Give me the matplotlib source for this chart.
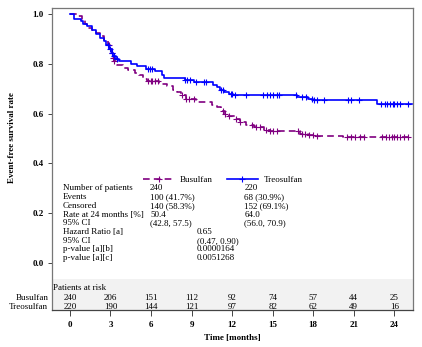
import numpy as np
import matplotlib
matplotlib.use("Agg")
import matplotlib.pyplot as plt

plt.rcParams["font.family"] = ["Liberation Serif", "DejaVu Serif"]

# Kaplan-Meier steps (months, survival after the step)
treo_t = [0, 0.3, 0.8, 1.0, 1.3, 1.6, 1.9, 2.2, 2.5, 2.7, 2.9, 3.1, 3.2, 3.4, 3.6, 4.5,
          5.0, 5.6, 6.3, 6.8, 7.0, 8.5, 9.2, 10.6, 10.9, 11.1, 11.4, 11.8, 12.1, 16.8,
          17.6, 18.0, 22.7, 25.3]
treo_s = [1.0, 0.98, 0.97, 0.96, 0.95, 0.935, 0.92, 0.905, 0.89, 0.875, 0.86, 0.845,
          0.83, 0.82, 0.81, 0.80, 0.79, 0.78, 0.77, 0.755, 0.745, 0.735, 0.725, 0.715,
          0.705, 0.695, 0.685, 0.68, 0.675, 0.665, 0.66, 0.655, 0.64, 0.64]
treo_cens = [2.8, 3.0, 3.1, 3.3, 3.5, 5.8, 5.9, 6.1, 8.5, 8.7, 8.9, 9.3, 9.9, 10.1,
             11.2, 11.3, 11.9, 12.0, 12.2, 13.0, 14.3, 14.6, 14.8, 15.0, 15.3, 15.5,
             16.7, 17.2, 17.5, 17.9, 18.1, 18.3, 18.8, 20.6, 20.8, 21.4, 23.0, 23.3,
             23.5, 23.7, 23.9, 24.0, 24.2, 24.4, 25.0]

busu_t = [0, 0.6, 0.9, 1.1, 1.3, 1.6, 1.9, 2.2, 2.5, 2.8, 3.0, 3.1, 3.2, 3.3, 3.5, 3.9,
          4.3, 4.8, 5.1, 5.4, 5.7, 6.6, 7.2, 7.6, 7.9, 8.2, 8.6, 9.3, 10.5, 10.9, 11.2,
          11.5, 11.8, 12.2, 12.6, 13.0, 13.6, 14.4, 14.8, 17.0, 17.6, 18.2, 20.2, 25.0]
busu_s = [1.0, 0.99, 0.975, 0.96, 0.945, 0.935, 0.925, 0.91, 0.895, 0.875, 0.86, 0.845,
          0.825, 0.81, 0.795, 0.785, 0.775, 0.765, 0.755, 0.74, 0.73, 0.72, 0.71, 0.695,
          0.685, 0.675, 0.66, 0.645, 0.635, 0.625, 0.61, 0.60, 0.59, 0.58, 0.565,
          0.555, 0.545, 0.535, 0.53, 0.52, 0.515, 0.51, 0.505, 0.505]
busu_cens = [2.9, 3.1, 3.2, 3.3, 5.8, 6.0, 6.1, 6.3, 6.5, 8.3, 8.6, 8.8, 9.2, 11.3,
             11.5, 11.8, 12.3, 12.6, 13.5, 13.8, 14.1, 14.5, 14.8, 15.0, 15.3, 16.9,
             17.2, 17.4, 17.7, 18.0, 18.3, 20.5, 20.8, 21.1, 21.5, 21.8, 23.1, 23.4,
             23.6, 23.8, 24.0, 24.2, 24.4, 24.7, 25.0]

risk_times = [0, 3, 6, 9, 12, 15, 18, 21, 24]
risk_busu = [240, 206, 151, 112, 92, 74, 57, 44, 25]
risk_treo = [220, 190, 144, 121, 97, 82, 62, 49, 16]

table_labels = ["Number of patients", "Events", "Censored", "Rate at 24 months [%]", "95% CI"]
table_busu = ["240", "100 (41.7%)", "140 (58.3%)", "50.4", "(42.8, 57.5)"]
table_treo = ["220", "68 (30.9%)", "152 (69.1%)", "64.0", "(56.0, 70.9)"]
hr_labels = ["Hazard Ratio [a]", "95% CI", "p-value [a][b]", "p-value [a][c]"]
hr_values = ["0.65", "(0.47, 0.90)", "0.0000164", "0.0051268"]

purple = "#800080"
blue = "#0000ff"
fs = 6.5

fig = plt.figure(figsize=(4.22, 3.47), dpi=100)
ax = fig.add_axes([0.123, 0.108, 0.856, 0.869])
ybot = -0.186
ax.set_xlim(-1.33, 25.4)
ax.set_ylim(ybot, 1.024)

ax.axhspan(ybot, -0.064, color="#f2f2f2", zorder=0, lw=0)


def censor_y(t, s, cens):
    idx = np.searchsorted(t, cens, side="right") - 1
    return np.array(s)[idx]


ax.step(busu_t, busu_s, where="post", color=purple, lw=1.2, ls=(0, (4, 2.5)))
ax.plot(busu_cens, censor_y(busu_t, busu_s, busu_cens), "+", color=purple, ms=5, mew=0.8)
ax.step(treo_t, treo_s, where="post", color=blue, lw=1.2)
ax.plot(treo_cens, censor_y(treo_t, treo_s, treo_cens), "+", color=blue, ms=5, mew=0.8)

# legend
h1, = ax.plot([], [], color=purple, lw=1.2, ls=(0, (4, 2.5)), marker="+", ms=5, mew=0.8)
h2, = ax.plot([], [], color=blue, lw=1.2, marker="+", ms=5, mew=0.8)
ax.legend([h1, h2], ["Busulfan", "Treosulfan"], ncol=2, frameon=False, fontsize=fs,
          loc="center left", bbox_to_anchor=(0.23, 0.43), handlelength=3.5,
          columnspacing=1.5, handletextpad=0.6)

# statistics table
y0, dy = 0.30, 0.035
for i, lab in enumerate(table_labels):
    y = y0 - i * dy
    ax.text(-0.52, y, lab, fontsize=fs, va="center")
    ax.text(5.93, y, table_busu[i], fontsize=fs, va="center")
    ax.text(12.9, y, table_treo[i], fontsize=fs, va="center")
for j, lab in enumerate(hr_labels):
    y = y0 - (len(table_labels) + j) * dy
    ax.text(-0.52, y, lab, fontsize=fs, va="center")
    ax.text(9.4, y, hr_values[j], fontsize=fs, va="center")

# patients at risk
ax.text(-1.26, -0.099, "Patients at risk", fontsize=fs, va="center")
for t, b, r in zip(risk_times, risk_busu, risk_treo):
    ax.text(t, -0.141, str(b), fontsize=fs, ha="center", va="center")
    ax.text(t, -0.176, str(r), fontsize=fs, ha="center", va="center")
ax.text(-1.6, -0.141, "Busulfan", fontsize=fs, ha="right", va="center")
ax.text(-1.6, -0.176, "Treosulfan", fontsize=fs, ha="right", va="center")

ax.set_yticks([0, 0.2, 0.4, 0.6, 0.8, 1.0])
ax.set_yticklabels(["0.0", "0.2", "0.4", "0.6", "0.8", "1.0"], fontweight="bold", fontsize=fs)
ax.set_xticks(risk_times)
ax.set_xticklabels([str(t) for t in risk_times], fontweight="bold", fontsize=fs)
ax.tick_params(axis="y", length=3, width=0.7, color="#444444", pad=3)
ax.tick_params(axis="x", length=4, width=0.7, color="#444444", pad=4)

ax.set_xlabel("Time [months]", fontweight="bold", fontsize=fs, labelpad=4)
ax.set_ylabel("Event-free survival rate", fontweight="bold", fontsize=fs)
ax.yaxis.set_label_coords(-0.10, 0.57)

for sp in ax.spines.values():
    sp.set_color("#777777")
    sp.set_linewidth(0.9)
ax.spines["bottom"].set_color("#444444")

fig.savefig("out.png", dpi=100)
